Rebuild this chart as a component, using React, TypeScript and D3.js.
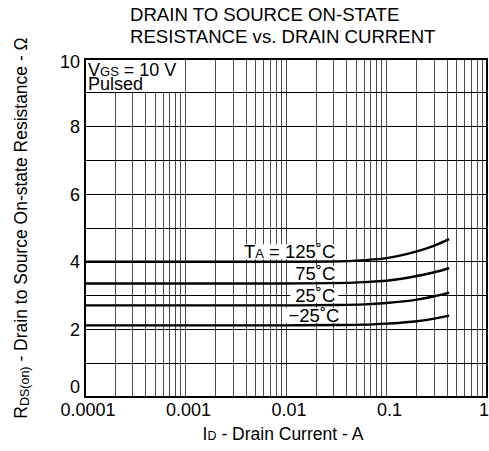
import React from "react";
import * as d3 from "d3";

const current = [0.0001, 0.001, 0.01, 0.03, 0.06, 0.1, 0.2, 0.3, 0.42];
const r125 = [4.0, 4.0, 4.0, 4.01, 4.05, 4.11, 4.31, 4.48, 4.67];
const r75 = [3.36, 3.36, 3.36, 3.37, 3.4, 3.44, 3.58, 3.69, 3.81];
const r25 = [2.71, 2.71, 2.71, 2.72, 2.74, 2.78, 2.88, 2.98, 3.09];
const rm25 = [2.12, 2.12, 2.12, 2.13, 2.14, 2.17, 2.24, 2.32, 2.41];
const seriesLabels = ["125˚C", "75˚C", "25˚C", "−25˚C"];
const labelEndX = [0.031, 0.031, 0.031, 0.034];
const xTicks = [0.0001, 0.001, 0.01, 0.1, 1];
const xTickLabels = ["0.0001", "0.001", "0.01", "0.1", "1"];
const yTicks = [0, 2, 4, 6, 8, 10];

const W = 489;
const H = 451;
const M = { left: 85, right: 487, top: 59, bottom: 397 };
const FONT = "'Liberation Sans', Arial, Helvetica, sans-serif";

export default function App() {
  const x = d3.scaleLog().domain([0.0001, 1]).range([M.left, M.right]);
  const y = d3.scaleLinear().domain([0, 10]).range([M.bottom, M.top]);

  const minor: number[] = [];
  for (let d = -4; d < 0; d++) {
    for (let k = 1; k <= 9; k++) {
      const v = k * Math.pow(10, d);
      if (v > 0.0001 * 1.0001 && v < 0.9999) minor.push(v);
    }
  }
  const hLines = d3.range(1, 10);

  const line = d3
    .line<[number, number]>()
    .x((d) => x(d[0]))
    .y((d) => y(d[1]))
    .curve(d3.curveMonotoneX);

  const series = [r125, r75, r25, rm25];

  const fs = 18.5;
  const labelWidths = [52, 42, 42, 52];

  return (
    <svg
      width={W}
      height={H}
      style={{ position: "absolute", left: 0, top: 0, background: "#fff" }}
      fontFamily={FONT}
    >
      <rect x={0} y={0} width={W} height={H} fill="#fff" />
      {/* title */}
      <text x={130} y={21} fontSize={18.6} fill="#000">
        DRAIN TO SOURCE ON-STATE
      </text>
      <text x={130} y={43} fontSize={18.6} fill="#000">
        RESISTANCE vs. DRAIN CURRENT
      </text>

      {/* vertical grid */}
      {minor.map((v, i) => (
        <line
          key={"v" + i}
          x1={x(v)}
          x2={x(v)}
          y1={M.top}
          y2={M.bottom}
          stroke="#4a4a4a"
          strokeWidth={1}
          shapeRendering="crispEdges"
        />
      ))}
      {/* horizontal grid */}
      {hLines.map((v) => (
        <line
          key={"h" + v}
          x1={M.left}
          x2={M.right}
          y1={y(v)}
          y2={y(v)}
          stroke="#000"
          strokeWidth={1}
          shapeRendering="crispEdges"
        />
      ))}

      {/* VGS box */}
      <rect
        x={M.left + 1}
        y={M.top + 1}
        width={x(0.001) - M.left - 2}
        height={y(9) - M.top - 2}
        fill="#fff"
      />
      <text x={88} y={76} fontSize={18} fill="#000">
        V<tspan fontSize={13}>GS</tspan>
        <tspan> = 10 V</tspan>
      </text>
      <text x={88} y={90} fontSize={18} fill="#000">
        Pulsed
      </text>

      {/* label backgrounds */}
      {series.map((s, i) => {
        const xe = x(labelEndX[i]);
        const yb = y(s[0]) - 3.5;
        const extra = i === 0 ? 42 : 0;
        return (
          <rect
            key={"bg" + i}
            x={xe - labelWidths[i] - extra - 3}
            y={yb - 14}
            width={labelWidths[i] + extra + 6}
            height={15}
            fill="#fff"
          />
        );
      })}

      {/* curves */}
      {series.map((s, i) => (
        <path
          key={"c" + i}
          d={line(current.map((c, j) => [c, s[j]] as [number, number])) || ""}
          fill="none"
          stroke="#000"
          strokeWidth={2.4}
        />
      ))}

      {/* curve labels */}
      {series.map((s, i) => {
        const xe = x(labelEndX[i]);
        const yb = y(s[0]) - 3.5;
        return (
          <text
            key={"l" + i}
            x={xe}
            y={yb}
            fontSize={fs}
            textAnchor="end"
            fill="#000"
          >
            {i === 0 ? (
              <>
                T<tspan fontSize={13}>A</tspan>
                <tspan> = {seriesLabels[i]}</tspan>
              </>
            ) : (
              seriesLabels[i]
            )}
          </text>
        );
      })}

      {/* frame */}
      <rect
        x={M.left}
        y={M.top}
        width={M.right - M.left}
        height={M.bottom - M.top}
        fill="none"
        stroke="#000"
        strokeWidth={2}
      />

      {/* y tick labels */}
      {yTicks.map((v) => {
        let yy = y(v) + 6.5;
        if (v === 10) yy += 2;
        if (v === 0) yy -= 11;
        return (
          <text
            key={"yt" + v}
            x={80}
            y={yy}
            fontSize={18}
            textAnchor="end"
            fill="#000"
          >
            {v}
          </text>
        );
      })}
      {/* x tick labels */}
      {xTicks.map((v, i) => {
        const last = i === xTicks.length - 1;
        return (
          <text
            key={"xt" + i}
            x={last ? W : x(v) + 3}
            y={415.5}
            fontSize={18}
            textAnchor={last ? "end" : "middle"}
            fill="#000"
          >
            {xTickLabels[i]}
          </text>
        );
      })}

      {/* x axis title */}
      <text x={283} y={440} fontSize={17.5} textAnchor="middle" fill="#000">
        I<tspan fontSize={12.5}>D</tspan>
        <tspan> - Drain Current - A</tspan>
      </text>
      {/* y axis title */}
      <text
        transform={`translate(27,228) rotate(-90)`}
        fontSize={17.5}
        textAnchor="middle"
        fill="#000"
      >
        R<tspan fontSize={12.5} dy={1.5}>DS(on)</tspan>
        <tspan dy={-1.5}> - Drain to Source On-state Resistance - Ω</tspan>
      </text>
    </svg>
  );
}
